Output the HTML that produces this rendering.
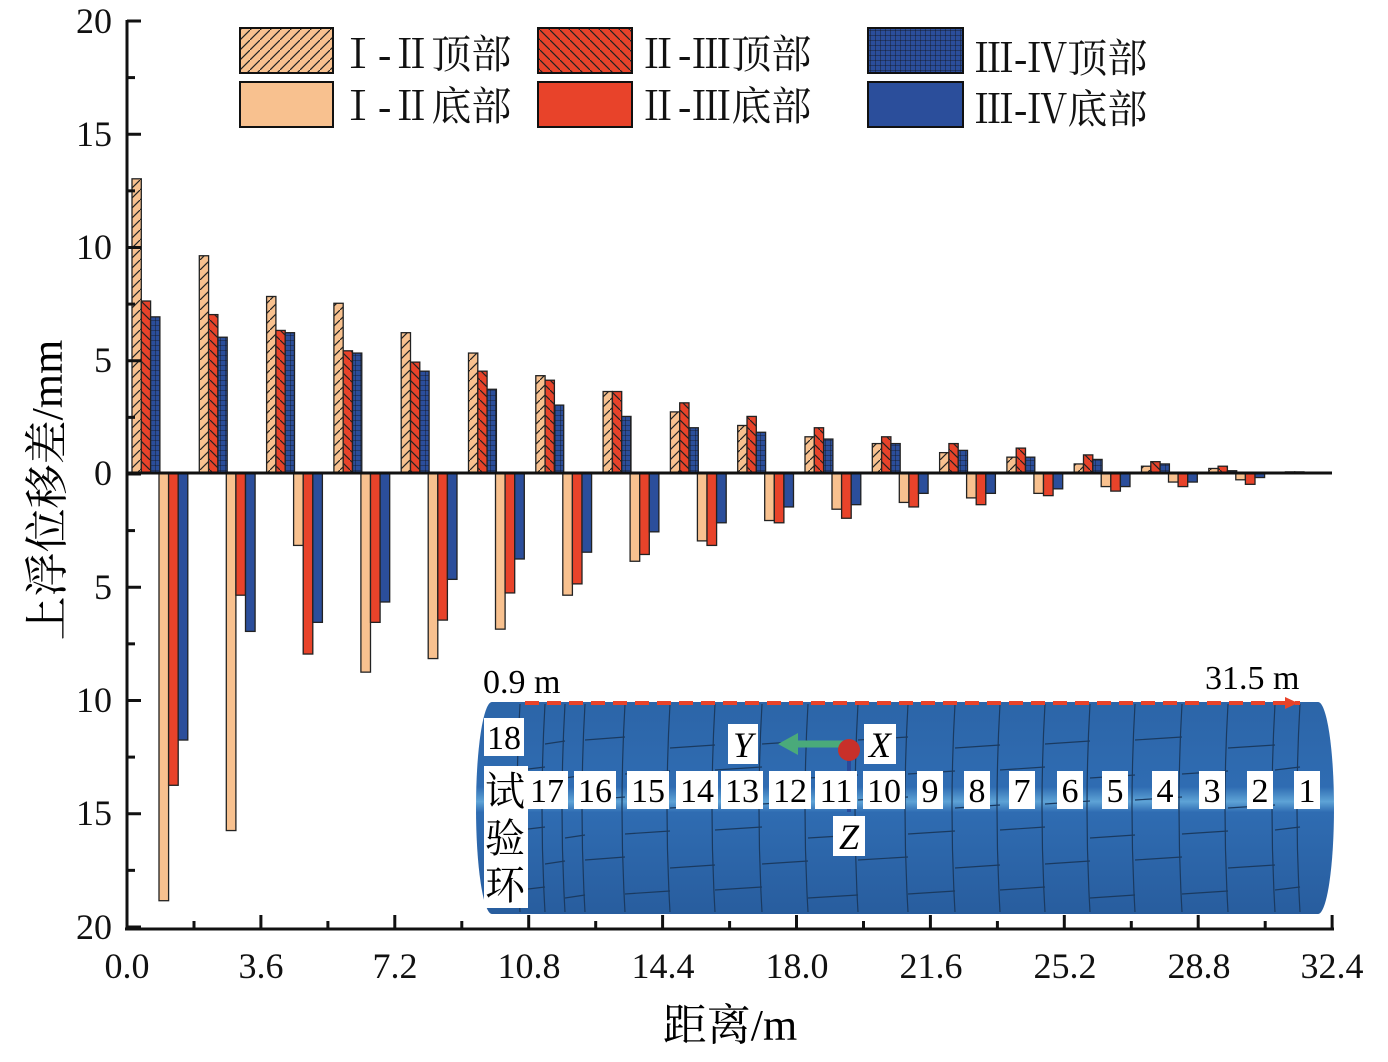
<!DOCTYPE html>
<html><head><meta charset="utf-8"><style>
body{margin:0;background:#fff}
svg text{font-family:"Liberation Serif","Noto Serif CJK SC",serif}
</style></head><body>
<svg id="s" width="1388" height="1057" viewBox="0 0 1388 1057" xmlns="http://www.w3.org/2000/svg">
<defs>
<pattern id="p1" width="10" height="10" patternUnits="userSpaceOnUse">
<rect width="10" height="10" fill="#F8C18F"/><path d="M-2,12 L12,-2" stroke="#222" stroke-width="1.2"/></pattern>
<pattern id="p2" width="10" height="10" patternUnits="userSpaceOnUse">
<rect width="10" height="10" fill="#E8432A"/><path d="M-2,-2 L12,12" stroke="#222" stroke-width="1.2"/></pattern>
<pattern id="p3" width="5" height="5" patternUnits="userSpaceOnUse">
<rect width="5" height="5" fill="#2B4E9B"/><path d="M0,0 H5 M0,0 V5" stroke="#111" stroke-width="0.8"/></pattern>
<linearGradient id="tg" x1="0" y1="0" x2="0" y2="1">
<stop offset="0" stop-color="#2c65a8"/><stop offset="0.4" stop-color="#2f6cb2"/><stop offset="0.47" stop-color="#5ea3d6"/><stop offset="0.52" stop-color="#2f6cb2"/><stop offset="1" stop-color="#285d9e"/></linearGradient>
</defs>
<g id="bars"></g>
<line x1="127" y1="473" x2="1332" y2="473" stroke="#111" stroke-width="3"/>
<line x1="127" y1="20" x2="127" y2="929" stroke="#111" stroke-width="3"/>
<line x1="125" y1="929" x2="1334" y2="929" stroke="#111" stroke-width="3"/>
<g id="ticks" stroke="#111" stroke-width="3"></g>
<g font-size="36" text-anchor="end" fill="#111">
<text x="112" y="33">20</text><text x="112" y="146">15</text><text x="112" y="259">10</text><text x="112" y="372">5</text><text x="112" y="485">0</text>
<text x="112" y="599">5</text><text x="112" y="712">10</text><text x="112" y="825">15</text><text x="112" y="939">20</text>
</g>
<g font-size="36" text-anchor="middle" fill="#111">
<text x="127" y="978">0.0</text><text x="261" y="978">3.6</text><text x="395" y="978">7.2</text><text x="529" y="978">10.8</text><text x="663" y="978">14.4</text><text x="797" y="978">18.0</text><text x="931" y="978">21.6</text><text x="1065" y="978">25.2</text><text x="1199" y="978">28.8</text><text x="1332" y="978">32.4</text>
</g>
<text x="730" y="1040" font-size="44" text-anchor="middle">距离/m</text>
<text transform="translate(62,490) rotate(-90)" font-size="44" text-anchor="middle">上浮位移差/mm</text>
<g stroke="#111" stroke-width="2">
<rect x="240" y="28" width="93" height="45" fill="url(#p1)"/><rect x="240" y="82" width="93" height="45" fill="#F8C18F"/>
<rect x="538" y="28" width="94" height="45" fill="url(#p2)"/><rect x="538" y="82" width="94" height="45" fill="#E8432A"/>
<rect x="868" y="28" width="95" height="45" fill="url(#p3)"/><rect x="868" y="82" width="95" height="45" fill="#2B4E9B"/>
</g>
<g font-size="40" fill="#111">
<text x="338" y="68">Ⅰ-Ⅱ顶部</text><text x="338" y="120">Ⅰ-Ⅱ底部</text>
<text x="638" y="68">Ⅱ-Ⅲ顶部</text><text x="638" y="120">Ⅱ-Ⅲ底部</text>
<text x="974" y="72">Ⅲ-Ⅳ顶部</text><text x="974" y="123">Ⅲ-Ⅳ底部</text>
</g>
<g>
<rect x="476" y="702" width="858" height="212" rx="16" ry="106" fill="url(#tg)"/>
<g id="seg" stroke="#1a3a60" stroke-width="1.2" fill="none"></g>
<line x1="525" y1="703" x2="1300" y2="703" stroke="#E8432A" stroke-width="4" stroke-dasharray="14,8"/>
<path d="M1285,697 L1298,703 L1285,709 Z" fill="#E8432A"/>
<text x="483" y="693" font-size="34">0.9 m</text>
<text x="1205" y="689" font-size="34">31.5 m</text>
<path d="M845,744 H793" stroke="#4aaa7a" stroke-width="7"/><path d="M778,744 L798,733 L798,755 Z" fill="#4aaa7a"/>
<line x1="849" y1="750" x2="849" y2="812" stroke="#2a4a9a" stroke-width="4"/>
<circle cx="849" cy="750" r="11" fill="#c8302a"/>
<g font-size="36" font-style="italic" text-anchor="middle">
<rect x="728" y="724" width="30" height="40" fill="#fff"/><text x="743" y="757">Y</text>
<rect x="864" y="724" width="32" height="40" fill="#fff"/><text x="880" y="757">X</text>
<rect x="833" y="816" width="32" height="40" fill="#fff"/><text x="849" y="849">Z</text>
</g>
<g id="nums" font-size="34" text-anchor="middle"></g>
<rect x="484" y="718" width="40" height="38" fill="#fff"/><text x="504" y="749" font-size="34" text-anchor="middle">18</text>
<rect x="484" y="766" width="44" height="142" fill="#fff"/>
<g font-size="40"><text x="485" y="805">试</text><text x="485" y="852">验</text><text x="485" y="899">环</text></g>
</g>
</svg>
<script>
(function(){
var NS="http://www.w3.org/2000/svg";
function el(p,t,a,txt){var e=document.createElementNS(NS,t);for(var k in a)e.setAttribute(k,a[k]);if(txt)e.textContent=txt;p.appendChild(e);return e;}
var topV=[[13,7.6,6.9],[9.6,7.0,6.0],[7.8,6.3,6.2],[7.5,5.4,5.3],[6.2,4.9,4.5],[5.3,4.5,3.7],[4.3,4.1,3.0],[3.6,3.6,2.5],[2.7,3.1,2.0],[2.1,2.5,1.8],[1.6,2.0,1.5],[1.3,1.6,1.3],[0.9,1.3,1.0],[0.7,1.1,0.7],[0.4,0.8,0.6],[0.3,0.5,0.4],[0.2,0.3,0.1],[0.02,0.05,0.05]];
var botV=[[18.9,13.8,11.8],[15.8,5.4,7.0],[3.2,8.0,6.6],[8.8,6.6,5.7],[8.2,6.5,4.7],[6.9,5.3,3.8],[5.4,4.9,3.5],[3.9,3.6,2.6],[3.0,3.2,2.2],[2.1,2.2,1.5],[1.6,2.0,1.4],[1.3,1.5,0.9],[1.1,1.4,0.9],[0.9,1.0,0.7],[0.6,0.8,0.6],[0.4,0.6,0.4],[0.3,0.5,0.2],[0,0,0]];
var b=document.getElementById("bars"),k=22.63,z=473;
var tf=["url(#p1)","url(#p2)","url(#p3)"],bf=["#F8C18F","#E8432A","#2B4E9B"];
for(var i=0;i<18;i++){var g=132+i*67.3;
for(var j=0;j<3;j++){var h=topV[i][j]*k;if(h>0.5)el(b,"rect",{x:g+j*9.3,y:z-h,width:9.3,height:h,fill:tf[j],stroke:"#222","stroke-width":1.3});
h=botV[i][j]*k;if(h>0.5)el(b,"rect",{x:g+27+j*9.6,y:z,width:9.6,height:h,fill:bf[j],stroke:"#222","stroke-width":1.3});}}
var t=document.getElementById("ticks");
for(var v=0;v<=8;v++){var y=21+v*113.25;el(t,"line",{x1:127,y1:y,x2:141,y2:y});if(v<8)el(t,"line",{x1:127,y1:y+56.6,x2:135,y2:y+56.6});}
for(var v=0;v<=9;v++){var x=127+v*133.9;el(t,"line",{x1:x,y1:929,x2:x,y2:915});if(v<9)el(t,"line",{x1:x+67,y1:929,x2:x+67,y2:921});}
var s=document.getElementById("seg"),xs=[520,545,565,585,625,670,715,762,808,858,908,955,1000,1045,1090,1135,1182,1228,1275,1300];
xs.forEach(function(x){el(s,"path",{d:"M"+x+",704 Q"+(x-6)+",808 "+x+",912"});});
for(var r=0;r<6;r++){var yy=740+r*30;for(var q=0;q<xs.length-1;q++){if((q+r)%2)el(s,"line",{x1:xs[q],y1:yy+(q%3)*4,x2:xs[q+1],y2:yy+(q%3)*4-3});}}
var n=document.getElementById("nums"),nx=[547,595,648,697,742,790,836,884,930,977,1022,1070,1115,1165,1212,1260,1307];
for(var i=0;i<17;i++){var lab=String(17-i),w=lab.length>1?42:26;el(n,"rect",{x:nx[i]-w/2,y:771,width:w,height:38,fill:"#fff"});el(n,"text",{x:nx[i],y:802},lab);}
})();
</script>
</body></html>
